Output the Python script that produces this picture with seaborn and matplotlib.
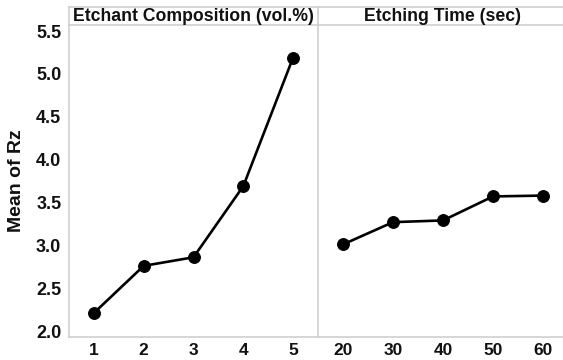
import matplotlib
matplotlib.use("Agg")
import matplotlib.pyplot as plt
import seaborn as sns
import pandas as pd

# Data
composition = [1, 2, 3, 4, 5]
rz_composition = [2.21, 2.76, 2.86, 3.69, 5.19]
etch_time = [20, 30, 40, 50, 60]
rz_time = [3.01, 3.27, 3.29, 3.57, 3.58]
titles = ["Etchant Composition (vol.%)", "Etching Time (sec)"]
y_ticks = [2.0, 2.5, 3.0, 3.5, 4.0, 4.5, 5.0, 5.5]
y_label = "Mean of Rz"

sns.set_theme(style="white")
plt.rcParams['font.family'] = ['Liberation Sans', 'DejaVu Sans']
plt.rcParams['font.weight'] = 'bold'

W, H = 563, 360
fig = plt.figure(figsize=(W / 100, H / 100), dpi=100)

def fx(px):
    return px / W

def fy(py):
    return 1 - py / H

gray = "#cfcfcf"
txt = "#111111"

top, bottom = 25, 337
hdr_top = 7
left_x0, div_x, right_x1 = 69, 318, 568

ax1 = fig.add_axes([fx(left_x0), fy(bottom), fx(div_x - left_x0), (bottom - top) / H])
ax2 = fig.add_axes([fx(div_x), fy(bottom), fx(right_x1 - div_x), (bottom - top) / H])

df1 = pd.DataFrame({"x": composition, "y": rz_composition})
df2 = pd.DataFrame({"x": etch_time, "y": rz_time})

for ax, df in ((ax1, df1), (ax2, df2)):
    sns.lineplot(data=df, x="x", y="y", ax=ax, color="black", linewidth=1.9,
                 marker="o", markersize=8.5, markeredgecolor="black", markerfacecolor="black")
    ax.set_ylim(1.93, 5.57)
    for s in ("top", "right"):
        ax.spines[s].set_visible(False)
    for s in ("left", "bottom"):
        ax.spines[s].set_color(gray)
        ax.spines[s].set_linewidth(1.2)
    ax.tick_params(axis="both", which="both", length=3.5, width=1, color=gray,
                   labelsize=13, labelcolor=txt, pad=2)
    ax.tick_params(axis="x", labelsize=12.5, pad=1)
    ax.set_xlabel("")
    ax.set_ylabel("")

ax1.set_xlim(0.5, 5.5)
ax1.set_xticks(composition)
ax1.set_xticklabels([str(v) for v in composition], fontweight="bold")
ax1.set_yticks(y_ticks)
ax1.set_yticklabels([f"{v:.1f}" for v in y_ticks], fontweight="bold")
ax1.set_ylabel(y_label, fontsize=14, fontweight="bold", color=txt, labelpad=8)

ax2.set_xlim(15, 65)
ax2.set_xticks(etch_time)
ax2.set_xticklabels([str(v) for v in etch_time], fontweight="bold")
ax2.set_yticks(y_ticks)
ax2.tick_params(axis="y", left=False, labelleft=False)

# header strips
for x0, x1, t in ((left_x0, div_x, titles[0]), (div_x, right_x1, titles[1])):
    hax = fig.add_axes([fx(x0), fy(top), fx(x1 - x0), (top - hdr_top) / H])
    hax.set_xticks([])
    hax.set_yticks([])
    hax.set_facecolor("white")
    for s in hax.spines.values():
        s.set_color(gray)
        s.set_linewidth(1.2)
    hax.spines["right"].set_visible(False)
    hax.text(0.5, 0.45, t, ha="center", va="center", fontsize=12.7,
             fontweight="bold", color=txt, transform=hax.transAxes)

fig.savefig("out.png", dpi=100)
